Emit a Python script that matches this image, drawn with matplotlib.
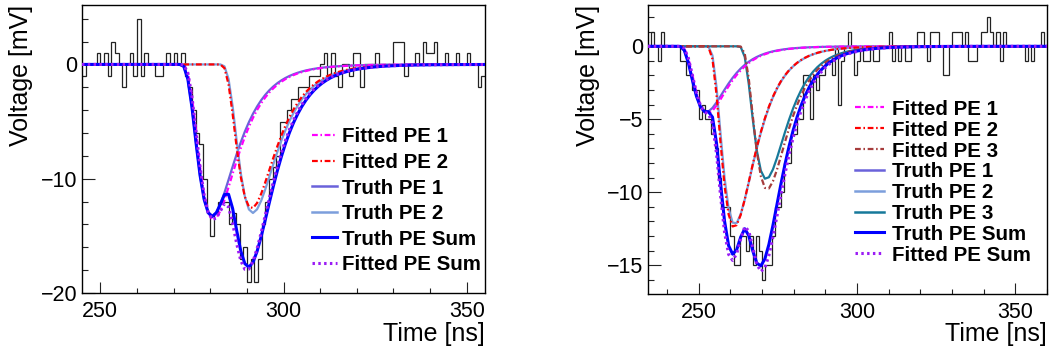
import numpy as np
import matplotlib
matplotlib.use("Agg")
import matplotlib.pyplot as plt
from matplotlib.lines import Line2D
from matplotlib.ticker import MultipleLocator

plt.rcParams['font.family'] = ['Liberation Sans', 'DejaVu Sans']

W, H = 1057, 354

# recorded waveforms, 1 ns bins [mV]
t0_left = 245
volt_left = [-1, 0, 0, 0, 1, 0, 1, -1, 2, 1,
             0, -2, 0, 1, -1, 4, -1, 1, 0, 0,
             -1, -1, 0, 1, 0, 1, 0, 1, -1, -2,
             -4, -6, -7, -10, -13, -15, -13, -12, -12, -12,
             -14, -13, -14, -17, -16, -19, -17, -19, -17, -14,
             -12, -10, -9, -8, -5, -5, -4, -3, -3, -2,
             -2, -2, -1, -1, -1, 0, 1, -1, 1, -1,
             -2, 0, 0, -1, 1, 1, -2, 0, 0, 0,
             1, 0, 0, 0, 0, 2, 2, 2, -1, 0,
             0, 1, 0, 2, 1, 1, 2, 0, 0, 1,
             0, 0, 1, 0, 0, 1, 0, 0, -2, -1]

t0_right = 234
volt_right = [0, 1, 0, -1, 1, 0, 0, 0, 0, 0,
              -1, -1, -2, -2, -3, -3, -5, -4, -5, -5,
              -6, -7, -9, -11, -11, -11, -13, -15, -15, -13,
              -13, -14, -13, -15, -13, -14, -16, -15, -15, -13,
              -11, -11, -10, -8, -8, -6, -6, -5, -5, -2,
              -2, -5, -2, -3, -2, -2, -1, -1, -2, 0,
              -4, -1, 0, 1, 0, -2, -1, 0, -1, -1,
              0, -1, -1, 0, 0, 0, 1, -1, 0, -1,
              0, -1, -1, 0, 0, 1, 1, 0, -1, 1,
              1, 1, 0, -2, -2, 0, 1, 1, 1, 0,
              1, -1, -1, -1, 0, 1, 1, 2, 1, 0,
              1, -1, 1, 0, 0, 0, 0, 0, 0, -1,
              0, -1, 0, 0, 1, 0]

# photo-electron peak times [ns] and amplitudes [mV]
truth_t_left = [280.5, 291.6]
truth_a_left = [13.3, 13.0]
fit_t_left = [280.9, 291.3]
fit_a_left = [13.6, 12.6]

truth_t_right = [252.4, 261.4, 271.3]
truth_a_right = [4.5, 12.2, 9.1]
fit_t_right = [252.8, 261.2, 271.6]
fit_a_right = [4.6, 12.4, 9.8]

# log-normal single PE template
TAU, SIGMA = 10.0, 0.5


def spe(t, tpk, amp):
    dt = t - (tpk - TAU)
    out = np.zeros_like(t)
    m = dt > 0
    out[m] = -amp * np.exp(-0.5 * (np.log(dt[m] / TAU) / SIGMA) ** 2)
    return out


fit_colors = ['#ff00ff', '#ff0000', '#a63c3c']
truth_colors = ['#6a62da', '#7c9edc', '#17799a']
sum_color = '#0000ff'
fitsum_color = '#9b1cf5'
dashdot = (0, (2.6, 1.2, 0.7, 1.2))
dotted = (0, (0.8, 1.1))


def px2fig(x, y):
    return x / W, 1 - y / H


def draw_panel(box, t0, volts, truth_t, truth_a, fit_t, fit_a,
               ylim, ymajor, yminor, leg, ylab_x):
    x0, y0, x1, y1 = box
    ax = fig.add_axes([x0 / W, 1 - y1 / H, (x1 - x0) / W, (y1 - y0) / H])
    edges = t0 + np.arange(len(volts) + 1)
    xlim = (edges[0], edges[-1])
    ax.stairs(volts, edges, baseline=None, color='#222222', lw=0.9, zorder=1)

    # functions drawn on 100 points like the fitter output
    t = np.linspace(xlim[0], xlim[1], 100)
    truth = [spe(t, tp, a) for tp, a in zip(truth_t, truth_a)]
    fits = [spe(t, tp, a) for tp, a in zip(fit_t, fit_a)]
    for i, c in enumerate(truth):
        ax.plot(t, c, color=truth_colors[i], lw=1.6, zorder=2)
    for i, c in enumerate(fits):
        ax.plot(t, c, color=fit_colors[i], lw=1.6, ls=dashdot, zorder=3)
    ax.plot(t, np.sum(truth, axis=0), color=sum_color, lw=2.2, zorder=4)
    ax.plot(t, np.sum(fits, axis=0), color=fitsum_color, lw=2.2,
            ls=dotted, zorder=5)

    ax.set_xlim(*xlim)
    ax.set_ylim(*ylim)
    ax.xaxis.set_major_locator(MultipleLocator(50))
    ax.xaxis.set_minor_locator(MultipleLocator(10))
    ax.yaxis.set_major_locator(MultipleLocator(ymajor))
    ax.yaxis.set_minor_locator(MultipleLocator(yminor))
    ax.tick_params(which='both', direction='in', top=False, right=False,
                   labelsize=15.5, width=0.8, color='#222222')
    ax.tick_params(axis='x', which='major', length=7.7, pad=6)
    ax.tick_params(axis='x', which='minor', length=3.8)
    ax.tick_params(axis='y', which='major', length=9.0, pad=3.5)
    ax.tick_params(axis='y', which='minor', length=4.5)
    for s in ax.spines.values():
        s.set_linewidth(1.0)

    # legend: sample start, sample end, text x, first row y, row step
    lx0, lx1, tx, ly0, ldy = leg
    n = len(truth_t)
    entries = []
    for i in range(n):
        entries.append((f'Fitted PE {i + 1}', fit_colors[i], dashdot, 1.6))
    for i in range(n):
        entries.append((f'Truth PE {i + 1}', truth_colors[i], '-', 1.8))
    entries.append(('Truth PE Sum', sum_color, '-', 2.2))
    entries.append(('Fitted PE Sum', fitsum_color, dotted, 2.2))
    for k, (lab, col, ls, lw) in enumerate(entries):
        yy = ly0 + k * ldy
        xa, ya = px2fig(lx0, yy)
        xb, _ = px2fig(lx1, yy)
        fig.add_artist(Line2D([xa, xb], [ya, ya], color=col, ls=ls, lw=lw,
                              transform=fig.transFigure))
        xt, _ = px2fig(tx, yy)
        fig.text(xt, ya, lab, fontsize=14.8, fontweight='bold',
                 ha='left', va='center_baseline')

    # axis titles
    fig.text(*px2fig(ylab_x, y0), 'Voltage [mV]', fontsize=18, rotation=90,
             ha='center', va='top')
    fig.text(*px2fig(x1, 341), 'Time [ns]', fontsize=18,
             ha='right', va='baseline')
    return ax


fig = plt.figure(figsize=(W / 100, H / 100), dpi=100)

draw_panel((82, 5, 485, 293), t0_left, volt_left,
           truth_t_left, truth_a_left, fit_t_left, fit_a_left,
           (-20, 5.2), 10, 2, (312, 337, 342, 135, 25.6), 21)
draw_panel((648, 5, 1047, 294), t0_right, volt_right,
           truth_t_right, truth_a_right, fit_t_right, fit_a_right,
           (-16.97, 2.83), 5, 1, (855, 884, 892, 107.3, 20.86), 587.5)

fig.savefig('out.png', dpi=100)
